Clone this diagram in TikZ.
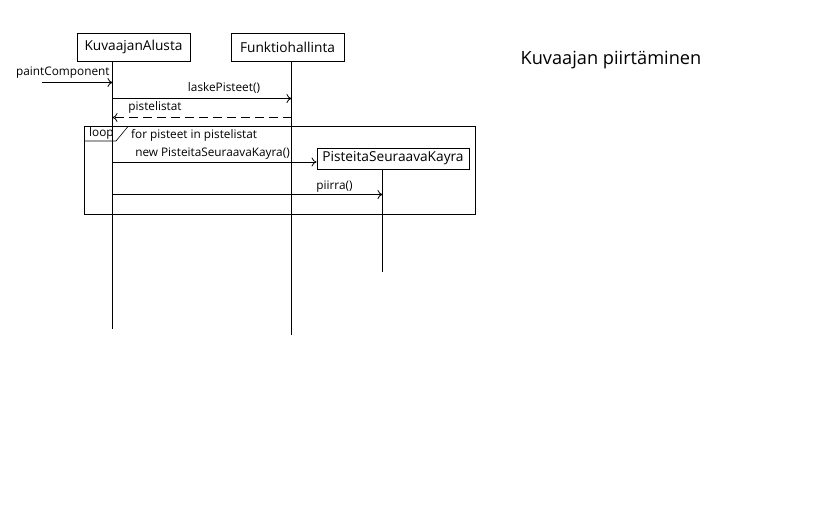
\documentclass[tikz,border=0pt]{standalone}
\usepackage{fontspec}
\setmainfont{Open Sans}
\usetikzlibrary{arrows.meta}
\begin{document}
\begin{tikzpicture}[x=1pt,y=-1pt,
  lbl/.style={font=\fontsize{11.8}{13}\selectfont, inner sep=0pt},
  obj/.style={draw, line width=0.9pt, font=\fontsize{13.7}{15}\selectfont, inner sep=0pt},
  life/.style={line width=0.9pt},
  msg/.style={line width=0.8pt, -{To[length=5pt,width=9pt]}},
  ret/.style={msg, dash pattern=on 9pt off 5pt}]
\useasboundingbox (0,0) rectangle (819,522);
% objects
\node[obj, minimum width=113pt, minimum height=28pt] (ka) at (133.5,47) {KuvaajanAlusta};
\node[obj, minimum width=113pt, minimum height=28pt] (fh) at (287.5,47) {Funktiohallinta};
\node[obj, minimum width=152pt, minimum height=21pt] (psk) at (393,158.5) {PisteitaSeuraavaKayra};
% lifeline end points
\coordinate (kaend) at (112.5,328.5);
\coordinate (fhend) at (291.5,334.5);
\coordinate (pskend) at (382.5,271.5);
\draw[life] (112.5,61) -- (kaend);
\draw[life] (291.5,61) -- (fhend);
\draw[life] (382.5,169) -- (pskend);
% title
\node[font=\fontsize{18.2}{20}\selectfont, inner sep=0pt] (title) at (611,60.5) {Kuvaajan piirtäminen};
% paintComponent
\coordinate (pcstart) at (42,82.5);
\coordinate (pcend) at (112.5,82.5);
\draw[msg] (pcstart) -- (pcend);
\node[lbl, anchor=west] (pc) at (16,73) {paintComponent};
% laskePisteet
\coordinate (l1) at (112.5,98.5);
\coordinate (l2) at (291.5,98.5);
\draw[msg] (l1) -- (l2);
\node[lbl] (lp) at (224,88) {laskePisteet()};
% pistelistat
\coordinate (r1) at (291.5,117.5);
\coordinate (r2) at (112.5,117.5);
\draw[ret] (r1) -- (r2);
\node[lbl] (pl) at (155,107.5) {pistelistat};
% loop frame
\draw[line width=0.9pt] (84.5,126.5) rectangle (475.5,214.5);
\draw[line width=0.6pt] (84.5,141) -- (116,141) -- (128,126.5);
\node[lbl, anchor=west] (loop) at (89,133.5) {loop};
\node[lbl, anchor=west] (guard) at (131,135.5) {for pisteet in pistelistat};
% new
\coordinate (n1) at (112.5,162);
\draw[msg] (n1) -- (psk.west |- n1);
\node[lbl] (nl) at (212.5,154) {new PisteitaSeuraavaKayra()};
% piirra
\coordinate (p1) at (112.5,194.5);
\coordinate (p2) at (382.5,194.5);
\draw[msg] (p1) -- (p2);
\node[lbl] (pr) at (334.5,186.5) {piirra()};
\end{tikzpicture}
\end{document}
